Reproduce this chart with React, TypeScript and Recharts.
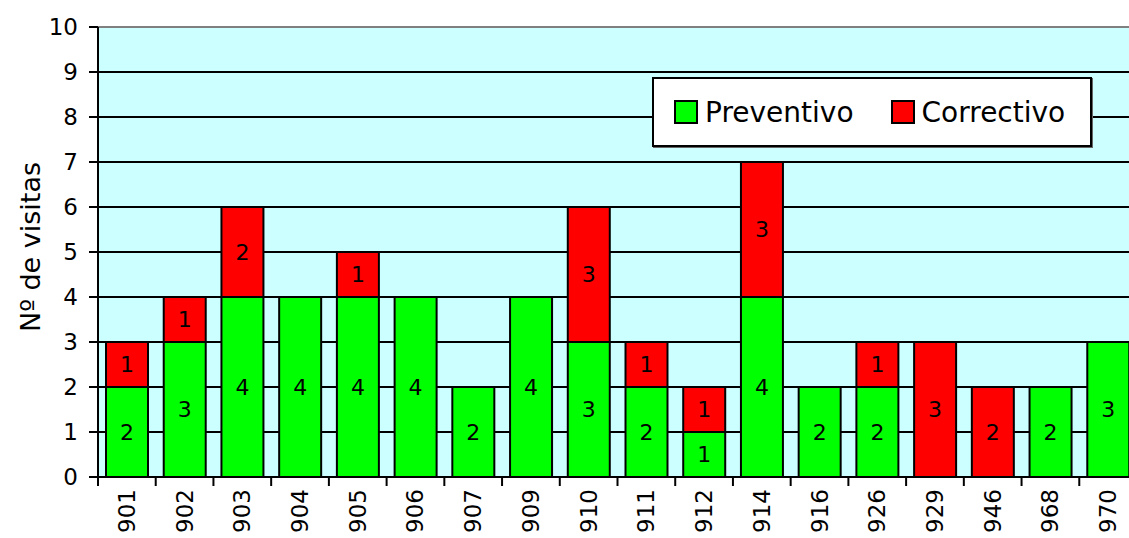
import {
  BarChart,
  Bar,
  XAxis,
  YAxis,
  CartesianGrid,
  LabelList,
  ReferenceLine,
} from "recharts";

// machine numbers and visit counts
const categories = [
  "901", "902", "903", "904", "905", "906", "907", "909", "910",
  "911", "912", "914", "916", "926", "929", "946", "968", "970",
];
const preventivo = [2, 3, 4, 4, 4, 4, 2, 4, 3, 2, 1, 4, 2, 2, 0, 0, 2, 3];
const correctivo = [1, 1, 2, 0, 1, 0, 0, 0, 3, 1, 1, 3, 0, 1, 3, 2, 0, 0];
const yTicks = [0, 1, 2, 3, 4, 5, 6, 7, 8, 9, 10];

const data = categories.map((name, i) => ({
  name,
  preventivo: preventivo[i],
  correctivo: correctivo[i],
}));

const FONT = "'DejaVu Sans', sans-serif";
const HALF_BAND = 1039 / categories.length / 2;

const XTick = (props: any) => {
  const { x, y, payload } = props;
  return (
    <g>
      <line x1={x - HALF_BAND} x2={x - HALF_BAND} y1={y} y2={y + 9} stroke="#000" strokeWidth={2} />
      <text
        transform={`translate(${x},${y + 12}) rotate(-90)`}
        textAnchor="end"
        dominantBaseline="central"
        fontSize={23}
        fontFamily={FONT}
        fill="#000"
      >
        {payload.value}
      </text>
    </g>
  );
};

// legend drawn as a plain box over the plot, like the original
const LegendBox = () => (
  <div
    style={{
      position: "absolute",
      left: 652,
      top: 77,
      width: 436,
      height: 66,
      background: "#fff",
      border: "2px solid #000",
      boxShadow: "1px 1px 0 #666",
      display: "flex",
      alignItems: "center",
      fontFamily: FONT,
      fontSize: 28,
      color: "#000",
    }}
  >
    <span style={{ width: 20, height: 20, background: "#00ff00", border: "2px solid #000", marginLeft: 20, marginRight: 7 }} />
    <span>Preventivo</span>
    <span style={{ width: 20, height: 20, background: "#ff0000", border: "2px solid #000", marginLeft: 37, marginRight: 7 }} />
    <span>Correctivo</span>
  </div>
);

const valueLabel = (v: any) => (v ? v : "");

const App = () => {
  return (
    <div style={{ position: "fixed", left: 0, top: 0, width: 1129, height: 538, overflow: "hidden", background: "#fff" }}>
      <BarChart
        width={1145}
        height={538}
        data={data}
        margin={{ top: 27, right: 8, left: 0, bottom: 0 }}
        barSize={42}
      >
        <CartesianGrid
          vertical={false}
          fill="#ccffff"
          stroke="#000"
          strokeWidth={2}
          fillOpacity={1}
        />
        <XAxis
          dataKey="name"
          height={61}
          interval={0}
          tickLine={false}
          tickSize={0}
          tickMargin={0}
          axisLine={{ stroke: "#000", strokeWidth: 2 }}
          tick={<XTick />}
        />
        <YAxis
          width={98}
          domain={[0, 10]}
          ticks={yTicks}
          interval={0}
          tickSize={9}
          tickMargin={11}
          tick={{ fontSize: 23, fontFamily: FONT, fill: "#000" }}
          tickLine={{ stroke: "#000", strokeWidth: 2 }}
          axisLine={{ stroke: "#000", strokeWidth: 2 }}
          label={{
            content: (p: any) => {
              const vb = p.viewBox;
              const cy = vb.y + vb.height / 2 - 5;
              return (
                <text
                  transform={`translate(30,${cy}) rotate(-90)`}
                  textAnchor="middle"
                  dominantBaseline="central"
                  fontSize={27}
                  fontFamily={FONT}
                  fill="#000"
                >
                  Nº de visitas
                </text>
              );
            },
          }}
        />
        <ReferenceLine y={10} stroke="#808080" strokeWidth={2} />
        <Bar dataKey="preventivo" name="Preventivo" stackId="a" fill="#00ff00" stroke="#000" strokeWidth={2} isAnimationActive={false}>
          <LabelList dataKey="preventivo" position="center" formatter={valueLabel} fontSize={22} fontFamily={FONT} fill="#000" />
        </Bar>
        <Bar dataKey="correctivo" name="Correctivo" stackId="a" fill="#ff0000" stroke="#000" strokeWidth={2} isAnimationActive={false}>
          <LabelList dataKey="correctivo" position="center" formatter={valueLabel} fontSize={22} fontFamily={FONT} fill="#000" />
        </Bar>
      </BarChart>
      <LegendBox />
    </div>
  );
};

export default App;
